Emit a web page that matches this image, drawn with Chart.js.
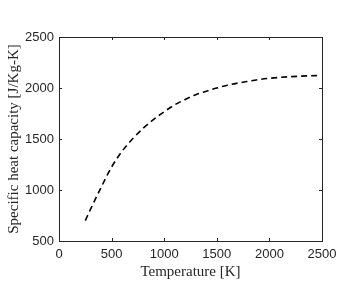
<!DOCTYPE html>
<html>
<head>
<meta charset="utf-8">
<script src="https://cdn.jsdelivr.net/npm/chart.js@4.4.1/dist/chart.umd.min.js"></script>
<style>
html,body{margin:0;padding:0;background:#fff;}
#wrap{width:360px;height:300px;position:relative;}
</style>
</head>
<body>
<div id="wrap"><canvas id="c" width="360" height="300"></canvas></div>
<script>
const temperature = [250, 300, 400, 500, 600, 700, 800, 900, 1000, 1100, 1200, 1300, 1400, 1500, 1600, 1700, 1800, 1900, 2000, 2100, 2200, 2300, 2400, 2455];
const heatCapacity = [700, 812, 1025, 1225, 1380, 1502, 1605, 1692, 1768, 1835, 1888, 1935, 1968, 2000, 2027, 2048, 2066, 2083, 2095, 2104, 2111, 2116, 2120, 2122];
const xTicks = [0, 500, 1000, 1500, 2000, 2500];
const yTicks = [500, 1000, 1500, 2000, 2500];

const axisColor = '#262626';
const textColor = '#262626';

const framePlugin = {
  id: 'frame',
  afterDatasetsDraw(chart) {
    const {ctx, chartArea: a, scales: {x, y}} = chart;
    ctx.save();
    ctx.strokeStyle = axisColor;
    ctx.lineWidth = 1;
    ctx.strokeRect(Math.round(a.left) + 0.5, Math.round(a.top) + 0.5,
                   Math.round(a.right - a.left), Math.round(a.bottom - a.top));
    const tl = 3;
    ctx.beginPath();
    xTicks.forEach(v => {
      const px = Math.round(x.getPixelForValue(v)) + 0.5;
      ctx.moveTo(px, a.bottom); ctx.lineTo(px, a.bottom - tl);
      ctx.moveTo(px, a.top); ctx.lineTo(px, a.top + tl);
    });
    yTicks.forEach(v => {
      const py = Math.round(y.getPixelForValue(v)) + 0.5;
      ctx.moveTo(a.left, py); ctx.lineTo(a.left + tl, py);
      ctx.moveTo(a.right, py); ctx.lineTo(a.right - tl, py);
    });
    ctx.stroke();
    ctx.restore();
  }
};

new Chart(document.getElementById('c'), {
  type: 'line',
  data: {
    datasets: [{
      data: temperature.map((t, i) => ({x: t, y: heatCapacity[i]})),
      borderColor: '#000',
      borderWidth: 1.6,
      borderDash: [6, 4],
      pointRadius: 0,
      cubicInterpolationMode: 'monotone',
      fill: false
    }]
  },
  options: {
    responsive: false,
    animation: false,
    devicePixelRatio: 1,
    layout: {padding: {left: 5, top: 37, right: 38, bottom: 19}},
    plugins: {legend: {display: false}, tooltip: {enabled: false}},
    scales: {
      x: {
        type: 'linear', min: 0, max: 2500,
        afterBuildTicks(s) { s.ticks = xTicks.map(v => ({value: v})); },
        afterFit(s) { s.height = 40; },
        grid: {display: false, drawTicks: false},
        border: {display: false},
        ticks: {color: textColor, font: {family: 'Liberation Sans', size: 13}, padding: 6, maxRotation: 0,
                callback: v => String(v)},
        title: {display: true, text: 'Temperature [K]', color: textColor,
                font: {family: 'Liberation Serif', size: 15}, padding: {top: 0, bottom: 0}}
      },
      y: {
        type: 'linear', min: 500, max: 2500,
        afterBuildTicks(s) { s.ticks = yTicks.map(v => ({value: v})); },
        afterFit(s) { s.width = 54; },
        grid: {display: false, drawTicks: false},
        border: {display: false},
        ticks: {color: textColor, font: {family: 'Liberation Sans', size: 13}, padding: 5,
                callback: v => String(v)},
        title: {display: true, text: 'Specific heat capacity [J/Kg-K]', color: textColor,
                font: {family: 'Liberation Serif', size: 15}, padding: {top: 0, bottom: 0}}
      }
    }
  },
  plugins: [framePlugin]
});
</script>
</body>
</html>
